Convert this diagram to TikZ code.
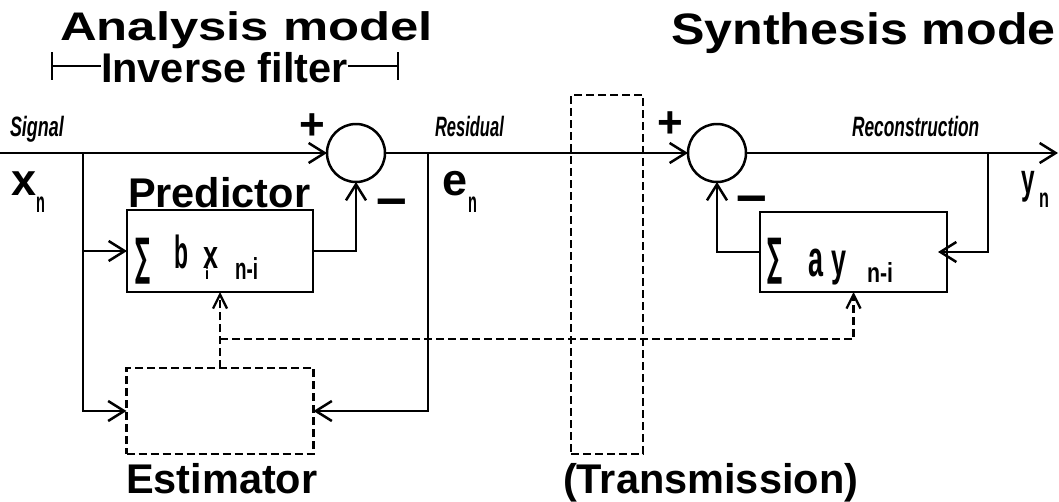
\documentclass[tikz,border=0pt]{standalone}
\usepackage{fontspec}
\setmainfont{Liberation Sans}
\newfontfamily\djv{DejaVu Sans}
\usepackage{graphicx}
\usetikzlibrary{arrows.meta}
\newcommand{\mytitle}{\fontsize{41.5}{41.5}\selectfont\bfseries}
\newcommand{\mylbl}{\fontsize{28}{28}\selectfont\bfseries\itshape}
\newcommand{\mybig}{\fontsize{45}{45}\selectfont\bfseries}
\begin{document}
\begin{tikzpicture}[x=1pt,y=-1pt,
  every node/.style={inner sep=0pt,outer sep=0pt},
  arr/.style={line width=2.5pt,-{Straight Barb[length=16pt,width=20pt,line width=2.5pt]}},
  dsh/.style={line width=2.3pt,dash pattern=on 8pt off 4pt},
  darr/.style={dsh,-{Straight Barb[length=14pt,width=14pt,line width=2.3pt]}},
  sumnode/.style={circle,draw,line width=2.5pt,minimum size=58pt},
  blk/.style={rectangle,draw,line width=2.5pt},
  dblk/.style={rectangle,draw,dsh},
  brk/.style={line width=2pt},
]
\useasboundingbox (0,0) rectangle (1059,501);

% titles and labels
\node[anchor=base west] (anal) at (60,40) {\fontsize{42}{42}\selectfont\bfseries\scalebox{1.21}[0.95]{Analysis model}};
\node[anchor=base west] (synt) at (671,44) {\fontsize{44}{44}\selectfont\bfseries\scalebox{1.14}[1]{Synthesis mode}};
\node[anchor=base west] (inv) at (101,82) {\mytitle Inverse filter};
\node[anchor=base west] (predlbl) at (128,207) {\mytitle Predictor};
\node[anchor=base west] (estlbl) at (126,493) {\mytitle Estimator};
\node[anchor=base west] (translbl) at (563,493) {\mytitle (Transmission)};
\node[anchor=base west] (sig) at (10,136) {\mylbl\scalebox{0.64}[1]{Signal}};
\node[anchor=base west] (res) at (435,136) {\mylbl\scalebox{0.59}[1]{Residual}};
\node[anchor=base west] (rec) at (852,136) {\mylbl\scalebox{0.62}[1]{Reconstruction}};

\node[anchor=base west] (xx) at (12,195) {\mybig x};
\node[anchor=base west] (xn) at (36,212) {\fontsize{29}{29}\selectfont\bfseries\scalebox{0.5}[1]{n}};
\node[anchor=base west] (ee) at (442,195) {\mybig e};
\node[anchor=base west] (en) at (468,212) {\fontsize{29}{29}\selectfont\bfseries\scalebox{0.5}[1]{n}};
\node[anchor=base west] (yy) at (1021,193) {\fontsize{42}{42}\selectfont\bfseries\scalebox{0.58}[1]{y}};
\node[anchor=base west] (yn) at (1039,207) {\fontsize{27}{27}\selectfont\bfseries\scalebox{0.6}[1]{n}};

\node (plusL) at (312,127) {\fontsize{44}{44}\selectfont\bfseries +};
\node (plusR) at (670,125) {\fontsize{44}{44}\selectfont\bfseries +};
\node[anchor=base] (minL) at (392,216) {\fontsize{55}{55}\selectfont\bfseries –};
\node[anchor=base] (minR) at (752,213) {\fontsize{55}{55}\selectfont\bfseries –};

% blocks
\node[sumnode] (sumL) at (356,153) {};
\node[sumnode] (sumR) at (717,153) {};
\node[blk,minimum width=186pt,minimum height=82pt] (pred) at (220,251) {};
\node[blk,minimum width=187pt,minimum height=80pt] (synth) at (853.5,252) {};
\node[dblk,minimum width=187pt,minimum height=86pt] (est) at (220,411) {};
\node[dblk,minimum width=72pt,minimum height=359pt] (trans) at (607,274.5) {};

% block contents
\node (sg1) at (142.5,261) {\resizebox*{15pt}{46pt}{\djv\bfseries ∑}};
\node (pb) at (181.5,251.5) {\resizebox*{14pt}{34pt}{\bfseries b}};
\node[anchor=base west] (px) at (203,268) {\resizebox*{15pt}{21pt}{\bfseries x}\llap{\raisebox{-11pt}{\resizebox*{4pt}{12pt}{\bfseries i}}\hspace{9pt}}};
\node (pni) at (246.5,268.5) {\resizebox*{23pt}{22pt}{\bfseries n-i}};
\node (sg2) at (774.5,261.5) {\resizebox*{15pt}{46pt}{\djv\bfseries ∑}};
\node (sa) at (815.5,263) {\resizebox*{15pt}{28pt}{\bfseries a}};
\node (sy) at (839,268) {\resizebox*{15pt}{34pt}{\bfseries y}};
\node (sni) at (880,272) {\resizebox*{26pt}{20pt}{\bfseries n-i}};

% coordinates
\coordinate (in) at (0,153);
\coordinate (jx) at (83,153);
\coordinate (je) at (428,153);
\coordinate (jy) at (988,153);
\coordinate (out) at (1058,153);
\coordinate (dj) at (220,339);
\coordinate (bLt) at (52,52);
\coordinate (bLb) at (52,80);
\coordinate (bLm) at (52,66);
\coordinate (bRt) at (398,52);
\coordinate (bRb) at (398,80);
\coordinate (bRm) at (398,66);

% connectors
\draw[arr] (in) -- (sumL.west);
\draw[arr] (jx) |- (est.west);
\draw[arr] (jx |- pred.west) -- (pred.west);
\draw[arr] (sumL.east) -- (sumR.west);
\draw[arr] (je) |- (est.east);
\draw[arr] (pred.east) -| (sumL.south);
\draw[arr] (sumR.east) -- (out);
\draw[arr] (jy) |- ([xshift=-9pt]synth.east);
\draw[arr] (synth.west) -| (sumR.south);
\draw[darr] (est.north) -- (pred.south);
\draw[darr] (dj) -| (synth.south);

% bracket
\draw[brk] (bLt) -- (bLb);
\draw[brk] (bRt) -- (bRb);
\draw[brk] (bLm) -- (bLm -| inv.west);
\draw[brk] (bRm) -- (bRm -| inv.east);
\end{tikzpicture}
\end{document}
